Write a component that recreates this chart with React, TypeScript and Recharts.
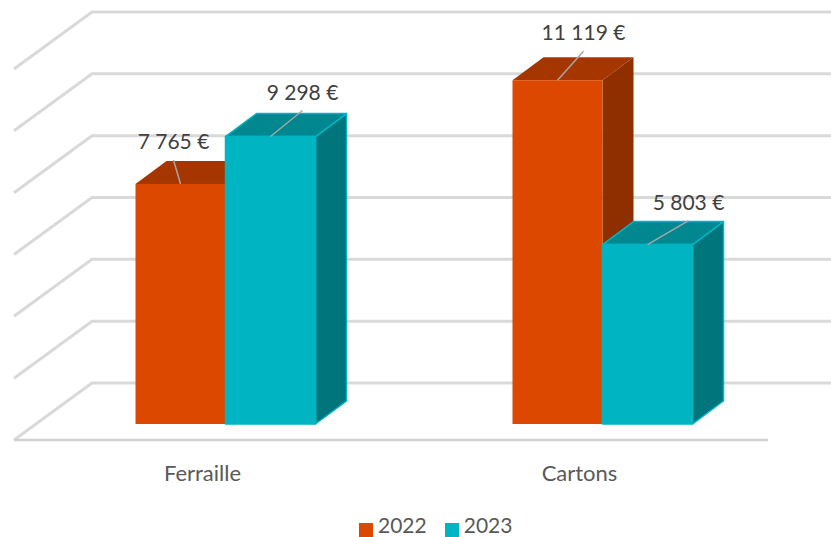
import React from 'react';
import { BarChart, Bar, XAxis, YAxis, CartesianGrid, LabelList, Legend } from 'recharts';

const categories = ['Ferraille', 'Cartons'];
const values2022 = [7765, 11119];
const values2023 = [9298, 5803];
const yTicks = [0, 2000, 4000, 6000, 8000, 10000, 12000];

const data = categories.map((name, i) => ({
  name,
  '2022': values2022[i],
  '2023': values2023[i],
}));

// leader line tip relative to the front-top centre of each box
const leaders2022 = [[-7, -24], [26, -29]];
const leaders2023 = [[32, -26], [41, -24]];

const FONT = 'Lato, sans-serif';
const GRID = '#d9d9d9';

// floor depth of the fake 3D walls, bars sit part of the way in
const FLOOR_DX = 78;
const FLOOR_FRONT = 16;
const FLOOR_BACK = 41;
const BAR_SHIFT = 22.5;
const BOX_DX = 31;
const BOX_DY = 23;

const formatEuro = (v: number) => `${String(v).replace(/\B(?=(\d{3})+$)/g, ' ')} €`;

const WallLine = (props: any) => {
  const { x1, x2, y1, index } = props;
  const isFloor = index === 0;
  const points = `${x1},${y1 + FLOOR_FRONT} ${x1 + FLOOR_DX},${y1 - FLOOR_BACK} ${x2 + 63},${y1 - FLOOR_BACK}`;
  return (
    <g key={`wall-${index}`}>
      <polyline points={points} fill="none" stroke={GRID} strokeWidth={3} />
      {isFloor && (
        <line x1={x1} x2={x2} y1={y1 + FLOOR_FRONT} y2={y1 + FLOOR_FRONT} stroke="#d0d0d0" strokeWidth={2.5} />
      )}
    </g>
  );
};

const Box = (props: any) => {
  const { x, y, width, height, fill, topFill, sideFill, edge } = props;
  const left = x + BAR_SHIFT;
  const right = left + width;
  const bottom = y + height;
  const edgeProps = edge ? { stroke: edge, strokeWidth: 1.5, strokeLinejoin: 'round' as const } : {};
  return (
    <g>
      <polygon
        points={`${right},${y} ${right + BOX_DX},${y - BOX_DY} ${right + BOX_DX},${bottom - BOX_DY} ${right},${bottom}`}
        fill={sideFill}
        {...edgeProps}
      />
      <polygon
        points={`${left},${y} ${left + BOX_DX},${y - BOX_DY} ${right + BOX_DX},${y - BOX_DY} ${right},${y}`}
        fill={topFill}
        {...edgeProps}
      />
      <rect x={left} y={y} width={width} height={height} fill={fill} {...edgeProps} />
    </g>
  );
};

const leaderLabel = (leaders: number[][]) => (props: any) => {
  const { x, y, width, value, index } = props;
  const cx = x + BAR_SHIFT + width / 2;
  const [dx, dy] = leaders[index];
  return (
    <g>
      <line x1={cx} y1={y} x2={cx + dx} y2={y + dy} stroke="#a6a6a6" strokeWidth={1.5} />
      <text x={cx + dx} y={y + dy - 11} textAnchor="middle" fontSize={21} fontFamily={FONT} fill="#404040">
        {formatEuro(value)}
      </text>
    </g>
  );
};

const LegendRow = ({ payload }: any) => (
  <div style={{ display: 'flex', paddingLeft: 359, height: 22, fontFamily: FONT, fontSize: 21, lineHeight: '22px', color: '#595959' }}>
    {(payload || []).map((item: any) => (
      <div key={item.value} style={{ display: 'flex', alignItems: 'center', marginRight: 18 }}>
        <span style={{ width: 14, height: 15, marginRight: 5, position: 'relative', top: 5, background: item.color, display: 'inline-block' }} />
        <span>{item.value}</span>
      </div>
    ))}
  </div>
);

export default function App() {
  return (
    <div style={{ position: 'absolute', left: 0, top: 0, width: 831, height: 537, overflow: 'hidden', background: '#fff' }}>
      <BarChart
        width={831}
        height={537}
        data={data}
        barSize={90}
        barGap={0}
        margin={{ top: 53, right: 63, left: 14, bottom: 31 }}
      >
        <CartesianGrid vertical={false} horizontal={(p: any) => <WallLine {...p} />} />
        <XAxis
          dataKey="name"
          height={60}
          axisLine={false}
          tickLine={false}
          tickMargin={35}
          tick={{ fill: '#595959', fontSize: 22, fontFamily: FONT }}
        />
        <YAxis hide domain={[0, 12000]} ticks={yTicks} />
        <Legend
          verticalAlign="bottom"
          content={<LegendRow />}
          wrapperStyle={{ left: 0, width: 831, bottom: 0, top: 514, height: 22 }}
        />
        <Bar
          dataKey="2022"
          fill="#dc4800"
          isAnimationActive={false}
          shape={(p: any) => <Box {...p} topFill="#a63600" sideFill="#8f2f00" />}
        >
          <LabelList dataKey="2022" content={leaderLabel(leaders2022)} />
        </Bar>
        <Bar
          dataKey="2023"
          fill="#00b4c1"
          isAnimationActive={false}
          shape={(p: any) => <Box {...p} topFill="#00878f" sideFill="#00757c" edge="#00b5c1" />}
        >
          <LabelList dataKey="2023" content={leaderLabel(leaders2023)} />
        </Bar>
      </BarChart>
    </div>
  );
}
